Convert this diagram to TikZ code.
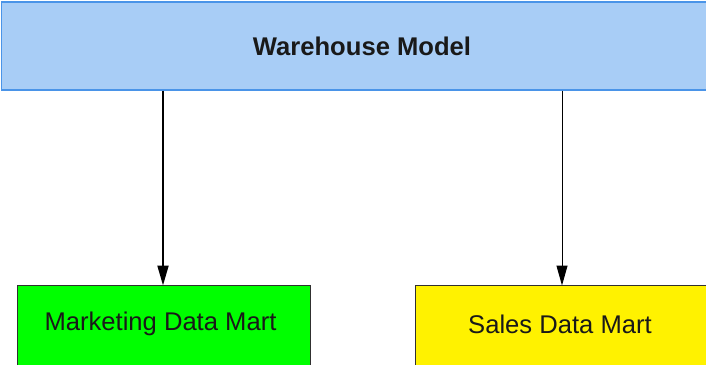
\documentclass[tikz,border=0pt]{standalone}
\usepackage{fontspec}
\setmainfont{Liberation Sans}
\usetikzlibrary{arrows.meta}
\definecolor{whfill}{HTML}{A8CDF6}
\definecolor{whdraw}{HTML}{4A94E8}
\definecolor{boxline}{HTML}{303030}
\tikzset{
  box/.style={draw=boxline, line width=1pt, inner sep=0pt},
  lbl/.style={inner sep=0pt, font=\fontsize{25.6}{30}\selectfont, text=black!90},
  arr/.style={-{Triangle[length=20pt,width=11pt]}, draw=black, fill=black}
}
\begin{document}
\begin{tikzpicture}[x=1pt,y=-1pt]
\useasboundingbox (0,0) rectangle (706,364);
\clip (0,0) rectangle (706,364);
\fill[white] (0,0) rectangle (706,364);
\node[box, draw=whdraw, line width=1.5pt, fill=whfill, minimum width=721pt, minimum height=88pt] (wh) at (362,46) {};
\node[lbl, font=\fontsize{25.6}{30}\selectfont\bfseries] (wht) at (362,46) {Warehouse Model};
\node[box, fill=green, minimum width=293pt, minimum height=110pt] (mk) at (164,340.5) {};
\node[lbl] (mkt) at (160.5,324) {Marketing Data Mart};
\node[box, fill=yellow, minimum width=380pt, minimum height=110pt] (sd) at (605.5,340.5) {};
\node[lbl] (sdt) at (560,324) {Sales Data Mart};
\coordinate (a1) at (163,285.5);
\coordinate (a2) at (562,285.5);
\draw[arr, line width=2pt] (a1 |- wh.south) -- (a1);
\draw[arr, line width=1pt] (a2 |- wh.south) -- (a2);
\end{tikzpicture}
\end{document}
